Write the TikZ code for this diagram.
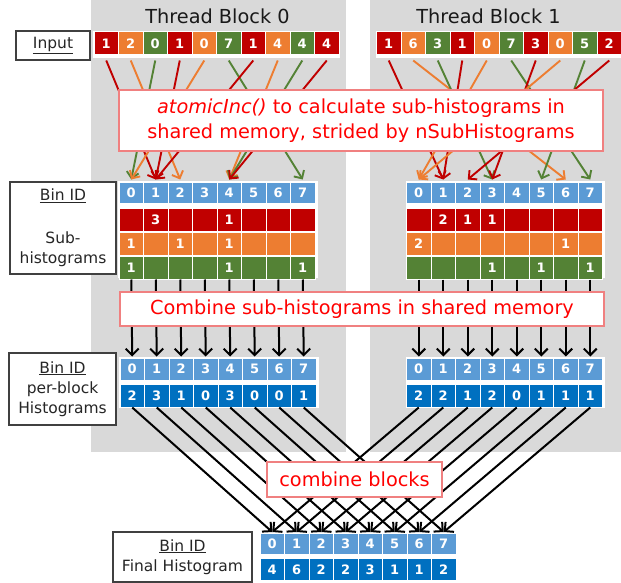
\documentclass[tikz,border=0pt]{standalone}
\usepackage{fontspec}
\setmainfont{DejaVu Sans}
\usetikzlibrary{arrows.meta,positioning}

\definecolor{subred}{HTML}{C00000}
\definecolor{suborange}{HTML}{ED7D31}
\definecolor{subgreen}{HTML}{548235}
\definecolor{binblue}{HTML}{5B9BD5}
\definecolor{valblue}{HTML}{0070C0}
\definecolor{blockgray}{HTML}{D9D9D9}
\definecolor{noteborder}{HTML}{F08080}
\definecolor{notetext}{HTML}{FF0000}

\tikzset{
  cell/.style={draw=white, line width=1pt, minimum width=24.5pt, minimum height=23pt,
    inner sep=0pt, text=white, font=\fontsize{13}{15}\selectfont\bfseries},
  bincell/.style={cell, fill=binblue, minimum height=21pt},
  valcell/.style={cell, fill=valblue},
  labelbox/.style={draw=black!75, line width=1.2pt, fill=white, text=black!85,
    align=center, inner sep=0pt, font=\fontsize{15.5}{20}\selectfont},
  note/.style={draw=noteborder, line width=1.3pt, fill=white, text=notetext,
    align=center, inner sep=0pt, font=\fontsize{19.3}{25}\selectfont},
  blocktitle/.style={text=black!90, font=\fontsize{19.3}{23}\selectfont},
  inarrow/.style={line width=1.9pt, -{Straight Barb[length=6pt,width=12pt]}},
  sumarrow/.style={line width=2pt, -{Straight Barb[length=6.5pt,width=13pt]}}
}

\begin{document}
\begin{tikzpicture}[x=1pt,y=-1pt]
  \useasboundingbox (0,0) rectangle (621,583);
  \fill[blockgray] (91,0) rectangle (346,452);
  \fill[blockgray] (370,0) rectangle (621,452);

  \node[blocktitle] (t0) at (217.5,16) {Thread Block 0};
  \node[blocktitle] (t1) at (488.5,16) {Thread Block 1};

  % input rows
  \node[labelbox, minimum width=74pt, minimum height=29pt] (input) at (53,45.5) {\underline{Input}};
  \fill[white] (93,31) rectangle (340,58);
  \fill[white] (375.5,31) rectangle (621,58);
  \foreach \v/\c [count=\i from 0] in {1/subred,2/suborange,0/subgreen,1/subred,0/suborange,7/subgreen,1/subred,4/suborange,4/subgreen,4/subred}
    \node[cell, fill=\c] (a\i) at (106.25+24.5*\i,43.5) {\v};
  \foreach \v/\c [count=\i from 0] in {1/subred,6/suborange,3/subgreen,1/subred,0/suborange,7/subgreen,3/subred,0/suborange,5/subgreen,2/subred}
    \node[cell, fill=\c] (b\i) at (388.75+24.5*\i,43.5) {\v};

  % sub-histograms
  \fill[white] (118,181) rectangle (317.5,278);
  \fill[white] (405.5,181) rectangle (604.5,278);
  \foreach \r/\o/\g [count=\j from 0] in {{}/1/1, 3/{}/{}, {}/1/{}, {}/{}/{}, 1/1/1, {}/{}/{}, {}/{}/{}, {}/{}/1} {
    \node[bincell] (abin\j) at (131.25+24.5*\j,192.5) {\j};
    \node[cell, fill=subred, below=4pt of abin\j] (ared\j) {\r};
    \node[cell, fill=suborange, below=0pt of ared\j] (aorg\j) {\o};
    \node[cell, fill=subgreen, below=0pt of aorg\j] (agrn\j) {\g};
  }
  \foreach \r/\o/\g [count=\j from 0] in {{}/2/{}, 2/{}/{}, 1/{}/{}, 1/{}/1, {}/{}/{}, {}/{}/1, {}/1/{}, {}/{}/1} {
    \node[bincell] (bbin\j) at (418.75+24.5*\j,192.5) {\j};
    \node[cell, fill=subred, below=4pt of bbin\j] (bred\j) {\r};
    \node[cell, fill=suborange, below=0pt of bred\j] (borg\j) {\o};
    \node[cell, fill=subgreen, below=0pt of borg\j] (bgrn\j) {\g};
  }

  % per-block histograms
  \fill[white] (119,357) rectangle (319,408);
  \fill[white] (405.5,357) rectangle (605,408);
  \foreach \v [count=\j from 0] in {2,3,1,0,3,0,0,1} {
    \node[bincell, minimum height=22pt] (apb\j) at (132.25+24.5*\j,369) {\j};
    \node[valcell, below=3pt of apb\j] (apv\j) {\v};
  }
  \foreach \v [count=\j from 0] in {2,2,1,2,0,1,1,1} {
    \node[bincell, minimum height=22pt] (bpb\j) at (418.75+24.5*\j,369) {\j};
    \node[valcell, below=3pt of bpb\j] (bpv\j) {\v};
  }

  % final histogram
  \fill[white] (259,533) rectangle (457,581);
  \foreach \v [count=\j from 0] in {4,6,2,2,3,1,1,2} {
    \node[bincell] (fbin\j) at (272.25+24.5*\j,544) {\j};
    \node[valcell, minimum height=22pt, below=3pt of fbin\j] (fval\j) {\v};
  }

  % arrows
  \foreach \i/\b/\c in {0/1/subred,1/2/suborange,2/0/subgreen,3/1/subred,4/0/suborange,5/7/subgreen,6/1/subred,7/4/suborange,8/4/subgreen,9/4/subred}
    \draw[inarrow,\c] ([yshift=-5pt]a\i.south) -- ([yshift=2pt]abin\b.north);
  \foreach \i/\b/\c in {0/1/subred,1/6/suborange,2/3/subgreen,3/1/subred,4/0/suborange,5/7/subgreen,6/3/subred,7/0/suborange,8/5/subgreen,9/2/subred}
    \draw[inarrow,\c] ([yshift=-5pt]b\i.south) -- ([yshift=2pt]bbin\b.north);
  \foreach \j in {0,...,7} {
    \draw[sumarrow] (agrn\j.south) -- ([yshift=1pt]apb\j.north);
    \draw[sumarrow] (bgrn\j.south) -- ([yshift=1pt]bpb\j.north);
    \draw[sumarrow] (apv\j.south) -- ([yshift=1pt]fbin\j.north);
    \draw[sumarrow] (bpv\j.south) -- ([yshift=1pt]fbin\j.north);
  }

  \node[note, minimum width=484pt, minimum height=61pt] (calc) at (361,120.5)
    {\textit{atomicInc()} to calculate sub-histograms in\\shared memory, strided by nSubHistograms};
  \node[note, minimum width=484pt, minimum height=34pt] (comb) at (362,309)
    {Combine sub-histograms in shared memory};
  \node[note, minimum width=175pt, minimum height=35pt] (blocks) at (354.5,479.5) {combine blocks};

  \node[labelbox, minimum width=106pt, minimum height=92pt] (sublbl) at (63,228)
    {\underline{Bin ID}\\[23pt]Sub-\\histograms};
  \node[labelbox, minimum width=107pt, minimum height=72pt] (pblbl) at (62.5,389)
    {\underline{Bin ID}\\per-block\\Histograms};
  \node[labelbox, minimum width=139pt, minimum height=50pt] (finlbl) at (182.5,557)
    {\underline{Bin ID}\\Final Histogram};
\end{tikzpicture}
\end{document}
